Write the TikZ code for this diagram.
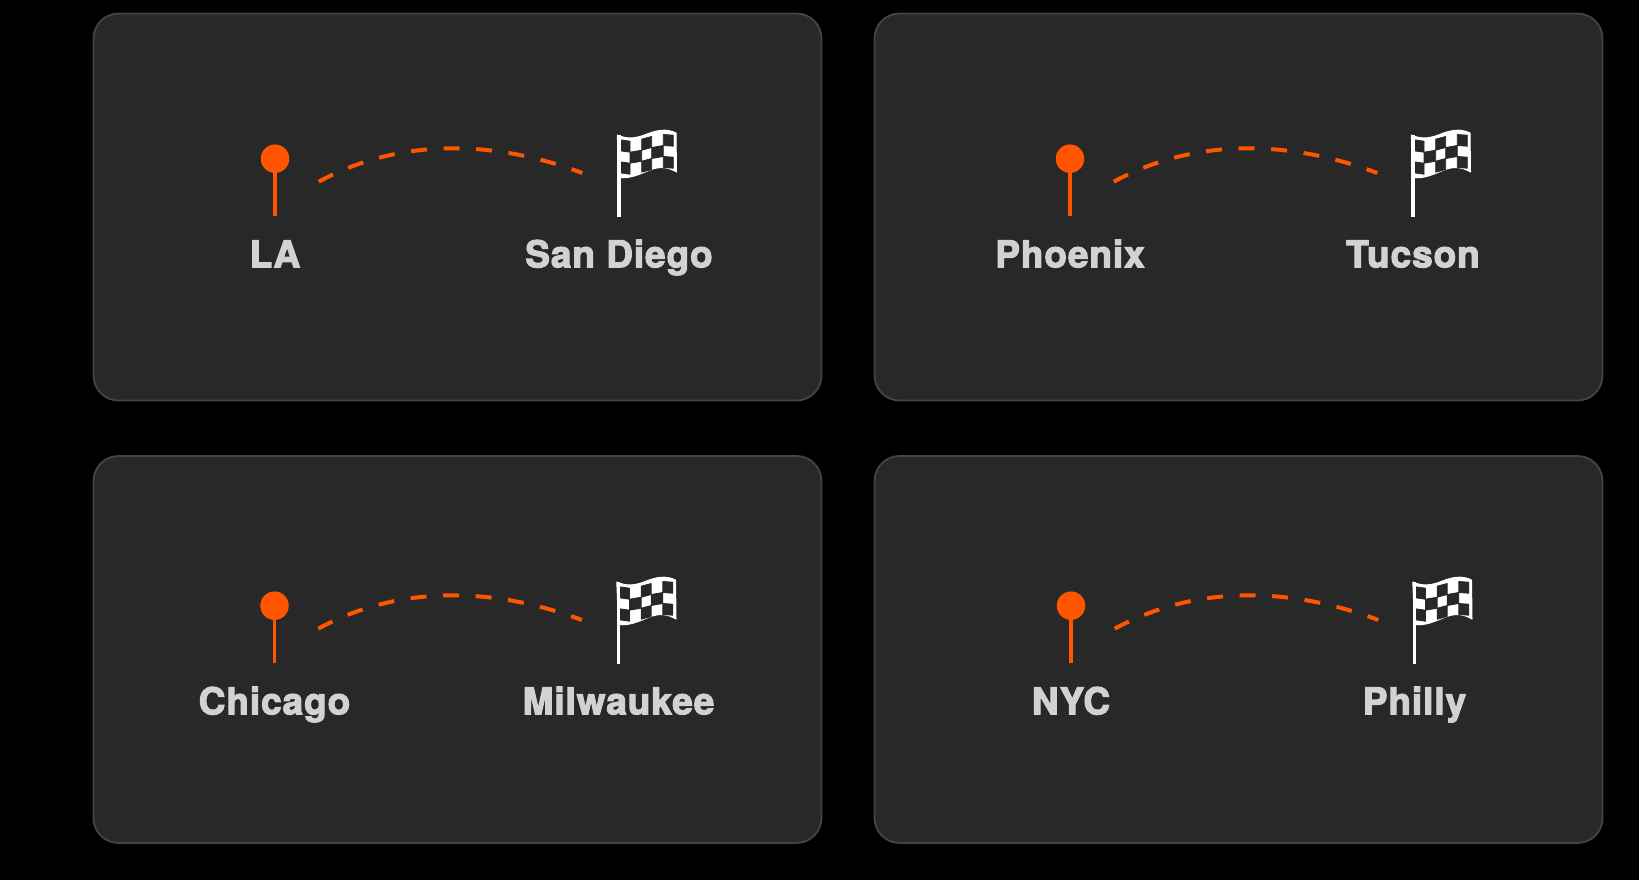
\documentclass[tikz,border=0pt]{standalone}
\usepackage{fontspec}
\newfontfamily\labfont[FakeBold=3,LetterSpace=2.5]{TeX Gyre Heros Bold}
\definecolor{bgc}{HTML}{000000}
\definecolor{cardc}{HTML}{282828}
\definecolor{edgec}{HTML}{444444}
\definecolor{orangec}{HTML}{FF5500}
\definecolor{labc}{HTML}{D2D2D2}
\tikzset{
  cardbox/.style={fill=cardc,draw=edgec,line width=1.8pt,rounded corners=25pt},
  pinhead/.style={circle,fill=orangec,inner sep=0pt,minimum size=28.5pt},
  stem/.style={draw=orangec,line width=3.8pt},
  routeline/.style={draw=orangec,line width=4pt,dash pattern=on 16pt off 16.6pt},
  cityname/.style={anchor=base,text=labc,font=\labfont\fontsize{37}{40}\selectfont,inner sep=0pt},
  flagwhite/.style={fill=white,draw=white,line width=1pt,line join=round},
  flagdark/.style={fill=cardc,draw=cardc,line width=.8pt,line join=round},
  pole/.style={draw=white,line width=3.6pt}
}
\newcommand{\routecard}[8]{%
  % id, card x, card y, pin x, pin y, pole x, from, to
  \draw[cardbox] (#2,#3) rectangle ++(728,387);
  \node[pinhead] (pin#1) at (#4,#5) {};
  \coordinate (foot#1) at (#4,#5+57.3);
  \draw[stem] (pin#1.south) -- (foot#1);
  \coordinate (arcs#1) at (#4+43.7,#5+23);
  \coordinate (arce#1) at (#4+307.3,#5+14.3);
  \draw[routeline] (arcs#1) .. controls (#4+123,#5-20.2) and (#4+217,#5-19.7) .. (arce#1);
  \begin{scope}[shift={(#6-9,#5-33.7)}]
    \draw[flagwhite] (7.3,10) .. controls (18,15) and (27,13) .. (37,9)
      .. controls (46,5.5) and (56,3) .. (66,8) -- (66.5,47)
      .. controls (58,42) and (50,41) .. (40,45)
      .. controls (30,49) and (20,54) .. (9,52.5) -- cycle;
    \foreach \xa/\ya/\xb/\yb/\k in {10/14.8/20/16.2/0,31.7/14.2/41.7/11.5/0,53.3/9.5/63.3/10.2/0,
      20/16.2/31.7/14.2/11,41.7/11.5/53.3/9.5/11,
      10/14.8/20/16.2/22,31.7/14.2/41.7/11.5/22,53.3/9.5/63.3/10.2/22}
      \fill[flagdark] ({\xa},{\ya+\k}) -- ({\xb},{\yb+\k}) -- ({\xb},{\yb+\k+11}) -- ({\xa},{\ya+\k+11}) -- cycle;
  \end{scope}
  \coordinate (polet#1) at (#6,#5-23.7);
  \coordinate (poleb#1) at (#6,#5+58.3);
  \draw[pole] (polet#1) -- (poleb#1);
  \node[cityname] (from#1) at (#4,#5+108.6) {#7};
  \node[cityname] (to#1) at (#6,#5+108.6) {#8};
}
\begin{document}
\begin{tikzpicture}[x=1pt,y=-1pt]
  \useasboundingbox[fill=bgc] (0,0) rectangle (1639,880);
  \routecard{a}{93.5}{13.5}{275}{158.7}{619}{LA}{San Diego}
  \routecard{b}{874.5}{13.5}{1070}{158.7}{1413}{Phoenix}{Tucson}
  \routecard{c}{93.5}{456}{274.5}{605.7}{618.5}{Chicago}{Milwaukee}
  \routecard{d}{874.5}{456}{1071}{605.7}{1414.5}{NYC}{Philly}
\end{tikzpicture}
\end{document}
